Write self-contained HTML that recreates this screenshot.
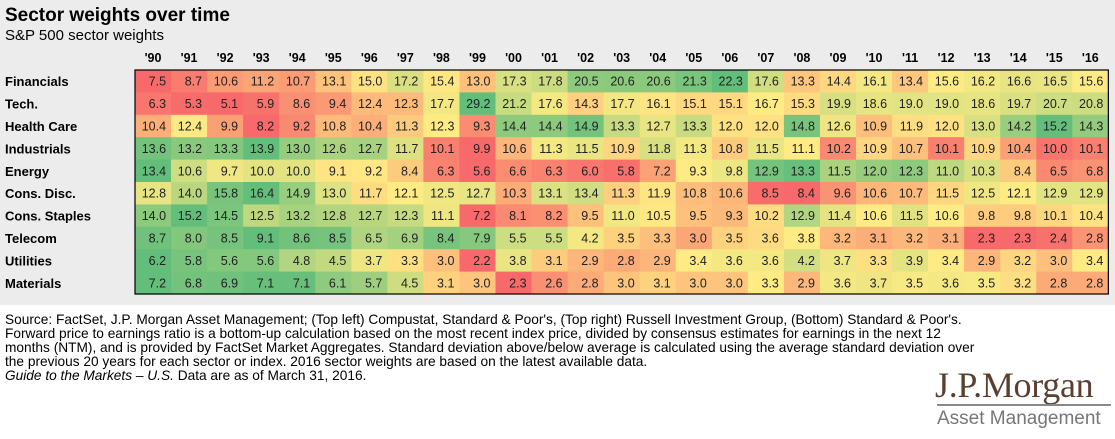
<!DOCTYPE html>
<html><head><meta charset="utf-8"><style>
body{margin:0;width:1115px;height:439px;background:#fff;overflow:hidden;font-family:"Liberation Sans",Arial,sans-serif;position:relative}
#bg{position:absolute;left:0;top:0;width:1115px;height:305px;background:#ececec}
.t{position:absolute;white-space:nowrap}
</style></head><body>
<div id="bg"></div>
<div class="t" style="left:5px;top:5px;font-size:19px;font-weight:bold">Sector weights over time</div>
<div class="t" style="left:5px;top:27px;font-size:15px">S&amp;P 500 sector weights</div>
<svg id="hm" width="1115" height="305" style="position:absolute;left:0;top:0"></svg>
<div class="t" style="left:5px;top:313px;font-size:13.7px;line-height:14px">Source: FactSet, J.P. Morgan Asset Management; (Top left) Compustat, Standard &amp; Poor's, (Top right) Russell Investment Group, (Bottom) Standard &amp; Poor's.<br>Forward price to earnings ratio is a bottom-up calculation based on the most recent index price, divided by consensus estimates for earnings in the next 12<br>months (NTM), and is provided by FactSet Market Aggregates. Standard deviation above/below average is calculated using the average standard deviation over<br>the previous 20 years for each sector or index. 2016 sector weights are based on the latest available data.<br><i>Guide to the Markets – U.S.</i> Data are as of March 31, 2016.</div>
<div class="t" style="left:935px;top:364px;font-family:'Liberation Serif',serif;font-size:36px;color:#5a4032;letter-spacing:-0.3px">J.P.Morgan</div>
<div style="position:absolute;left:937px;top:404px;width:174px;height:2px;background:#888"></div>
<div class="t" style="left:937px;top:408px;font-size:19px;color:#777">Asset Management</div>
<script>
const years=["'90","'91","'92","'93","'94","'95","'96","'97","'98","'99","'00","'01","'02","'03","'04","'05","'06","'07","'08","'09","'10","'11","'12","'13","'14","'15","'16"];
const sectors=["Financials","Tech.","Health Care","Industrials","Energy","Cons. Disc.","Cons. Staples","Telecom","Utilities","Materials"];
const financials=[7.5,8.7,10.6,11.2,10.7,13.1,15.0,17.2,15.4,13.0,17.3,17.8,20.5,20.6,20.6,21.3,22.3,17.6,13.3,14.4,16.1,13.4,15.6,16.2,16.6,16.5,15.6];
const tech=[6.3,5.3,5.1,5.9,8.6,9.4,12.4,12.3,17.7,29.2,21.2,17.6,14.3,17.7,16.1,15.1,15.1,16.7,15.3,19.9,18.6,19.0,19.0,18.6,19.7,20.7,20.8];
const healthCare=[10.4,12.4,9.9,8.2,9.2,10.8,10.4,11.3,12.3,9.3,14.4,14.4,14.9,13.3,12.7,13.3,12.0,12.0,14.8,12.6,10.9,11.9,12.0,13.0,14.2,15.2,14.3];
const industrials=[13.6,13.2,13.3,13.9,13.0,12.6,12.7,11.7,10.1,9.9,10.6,11.3,11.5,10.9,11.8,11.3,10.8,11.5,11.1,10.2,10.9,10.7,10.1,10.9,10.4,10.0,10.1];
const energy=[13.4,10.6,9.7,10.0,10.0,9.1,9.2,8.4,6.3,5.6,6.6,6.3,6.0,5.8,7.2,9.3,9.8,12.9,13.3,11.5,12.0,12.3,11.0,10.3,8.4,6.5,6.8];
const consDisc=[12.8,14.0,15.8,16.4,14.9,13.0,11.7,12.1,12.5,12.7,10.3,13.1,13.4,11.3,11.9,10.8,10.6,8.5,8.4,9.6,10.6,10.7,11.5,12.5,12.1,12.9,12.9];
const consStaples=[14.0,15.2,14.5,12.5,13.2,12.8,12.7,12.3,11.1,7.2,8.1,8.2,9.5,11.0,10.5,9.5,9.3,10.2,12.9,11.4,10.6,11.5,10.6,9.8,9.8,10.1,10.4];
const telecom=[8.7,8.0,8.5,9.1,8.6,8.5,6.5,6.9,8.4,7.9,5.5,5.5,4.2,3.5,3.3,3.0,3.5,3.6,3.8,3.2,3.1,3.2,3.1,2.3,2.3,2.4,2.8];
const utilities=[6.2,5.8,5.6,5.6,4.8,4.5,3.7,3.3,3.0,2.2,3.8,3.1,2.9,2.8,2.9,3.4,3.6,3.6,4.2,3.7,3.3,3.9,3.4,2.9,3.2,3.0,3.4];
const materials=[7.2,6.8,6.9,7.1,7.1,6.1,5.7,4.5,3.1,3.0,2.3,2.6,2.8,3.0,3.1,3.0,3.0,3.3,2.9,3.6,3.7,3.5,3.6,3.5,3.2,2.8,2.8];
const rows=[financials,tech,healthCare,industrials,energy,consDisc,consStaples,telecom,utilities,materials];

const NS="http://www.w3.org/2000/svg";
const svg=document.getElementById('hm');
const X0=135,CW=36.05,Y0=70,RH=22.4;
const xPos=i=>X0+i*CW, yPos=j=>Y0+j*RH;
function mix(a,b,t){return a.map((v,k)=>Math.round(v+(b[k]-v)*t));}
const R=[248,105,107],Yl=[255,235,132],G=[99,190,123];
function color(v,arr){
  const s=[...arr].sort((a,b)=>a-b);const mn=s[0],mx=s[s.length-1];
  const n=s.length;const med=n%2?s[(n-1)/2]:(s[n/2-1]+s[n/2])/2;
  let c;
  if(v<=med)c=mix(R,Yl,med===mn?1:(v-mn)/(med-mn));else c=mix(Yl,G,mx===med?0:(v-med)/(mx-med));
  return 'rgb('+c.join(',')+')';
}
function el(tag,attrs){const e=document.createElementNS(NS,tag);for(const k in attrs)e.setAttribute(k,attrs[k]);return e;}
years.forEach((y,i)=>{
  const t=el('text',{x:xPos(i)+CW/2,y:62,'text-anchor':'middle','font-size':12.5,'font-weight':'bold','font-family':'Liberation Sans, sans-serif'});
  t.textContent=y;
  
  
  svg.appendChild(t);
});
rows.forEach((arr,j)=>{
  const lab=el('text',{x:5,y:yPos(j)+RH/2+5,'font-size':13,'font-weight':'bold','font-family':'Liberation Sans, sans-serif'});
  lab.textContent=sectors[j];
  
  
  svg.appendChild(lab);
  arr.forEach((v,i)=>{
    const r=el('rect',{x:xPos(i),y:yPos(j),width:CW+0.6,height:RH+0.6,fill:color(v,arr)});
    
    
    svg.appendChild(r);
    const t=el('text',{x:xPos(i)+CW-5,y:yPos(j)+RH/2+4.5,'text-anchor':'end','font-size':12.5,fill:'#222','font-family':'Liberation Sans, sans-serif'});
    t.textContent=v.toFixed(1);
    
    
    svg.appendChild(t);
  });
});
const b=el('rect',{x:X0,y:Y0,width:CW*years.length,height:RH*rows.length,fill:'none',stroke:'#000','stroke-width':1.2});


svg.appendChild(b);
</script>
</body></html>
